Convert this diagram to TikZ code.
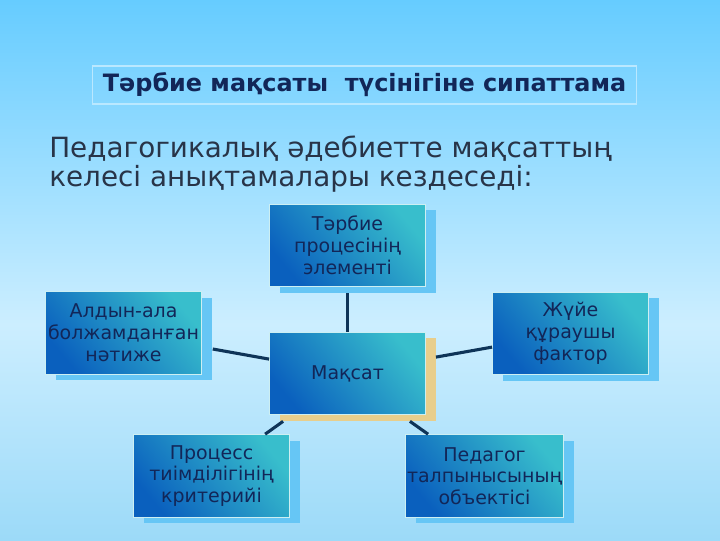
\documentclass[tikz,border=0pt]{standalone}
\usepackage{fontspec}
\setmainfont{DejaVu Sans}
\usepackage{tikz}
\usetikzlibrary{shadows, positioning}
\definecolor{bgtop}{RGB}{102,204,255}
\definecolor{bgmid}{RGB}{204,238,255}
\definecolor{bgbot}{RGB}{156,218,248}
\definecolor{boxdark}{RGB}{10,96,190}
\definecolor{boxmid}{RGB}{14,106,196}
\definecolor{boxlight}{RGB}{56,190,204}
\definecolor{inktext}{RGB}{18,38,88}
\definecolor{leadtext}{RGB}{40,52,72}
\definecolor{linkblue}{RGB}{14,52,88}
\definecolor{skyshadow}{RGB}{102,198,245}
\definecolor{sandshadow}{RGB}{232,206,140}
\pgfdeclareverticalshading{slidebg}{100bp}{color(0bp)=(bgbot); color(25bp)=(bgbot); color(45bp)=(bgmid); color(75bp)=(bgtop); color(100bp)=(bgtop)}

\begin{document}
\begin{tikzpicture}[
    x=0.025cm, y=-0.025cm,
    heading/.style={rectangle, draw=white!55!bgtop, line width=0.8pt, minimum width=13.58cm, minimum height=0.95cm, font=\fontsize{17}{20}\selectfont\bfseries, text=inktext},
    lead/.style={font=\fontsize{19.8}{20}\selectfont, text=leadtext, align=left, inner sep=0pt},
    item/.style={rectangle, draw=white!75!boxlight, line width=0.6pt, minimum width=3.9cm, minimum height=2.07cm, inner xsep=1pt, align=center, text=inktext, font=\fontsize{13.5}{15.5}\selectfont, shading=axis, bottom color=boxdark, middle color=boxmid, top color=boxlight, shading angle=-50, drop shadow={shadow xshift=0.26cm, shadow yshift=-0.15cm, fill=skyshadow, opacity=1}},
    goal/.style={item, drop shadow={shadow xshift=0.26cm, shadow yshift=-0.15cm, fill=sandshadow, opacity=1}},
    link/.style={linkblue, line width=2.2pt},
]
\useasboundingbox (0,0) rectangle (720,540);
\shade[shading=slidebg] (0,0) rectangle (720,540);

\node[heading] (title) at (364.5,85) {Тәрбие мақсаты \ түсінігіне сипаттама};
\node[lead, anchor=north west] (intro) at (49,136) {Педагогикалық әдебиетте мақсаттың\\келесі анықтамалары кездеседі:};

\node[goal] (centre) at (347.5,373.5) {Мақсат};
\node[item] (top) at (347.5,245.5) {Тәрбие\\процесінің\\элементі};
\node[item] (left) at (123.5,333) {Алдын-ала\\болжамданған\\нәтиже};
\node[item] (right) at (570.5,333.5) {Жүйе\\құраушы\\фактор};
\node[item] (botleft) at (211.5,476) {Процесс\\тиімділігінің\\критерийі};
\node[item] (botright) at (484.5,476) {Педагог\\талпынысының\\объектісі};

\draw[link] ([yshift=-0.15cm]top.south) -- (centre.north);
\draw[link] ([shift={(0.27cm,-0.4cm)}]left.east) -- ([yshift=0.36cm]centre.west);
\draw[link] ([shift={(0.25cm,0.41cm)}]centre.east) -- ([yshift=-0.34cm]right.west);
\draw[link] ([shift={(-1.61cm,-0.15cm)}]centre.south) -- ([xshift=1.34cm]botleft.north);
\draw[link] ([shift={(1.56cm,-0.15cm)}]centre.south) -- ([xshift=-1.41cm]botright.north);

\end{tikzpicture}
\end{document}
